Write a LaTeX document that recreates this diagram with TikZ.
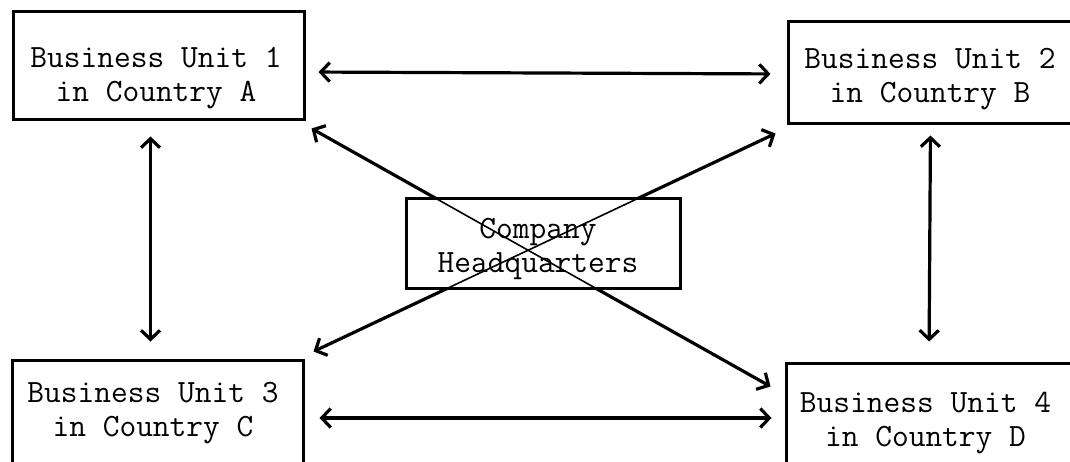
\documentclass[tikz,border=0pt]{standalone}
\usetikzlibrary{arrows.meta}
\begin{document}
\begin{tikzpicture}[x=1pt,y=-1pt,
  box/.style={draw=black,line width=3pt,rectangle,inner sep=0pt},
  txt/.style={align=center,inner sep=0pt,font=\ttfamily\fontsize{32.5}{34}\selectfont},
  conn/.style={line width=3.2pt,{Straight Barb[length=9pt,width=19pt]}-{Straight Barb[length=9pt,width=19pt]}},
  thin/.style={line width=1.6pt}]
\useasboundingbox (0,0) rectangle (1070,462);
\fill[white] (0,0) rectangle (1070,462);
% boxes
\node[box,minimum width=291pt,minimum height=108pt] (b1) at (158.5,66) {};
\node[box,minimum width=285pt,minimum height=102pt] (b2) at (930.5,73) {};
\node[box,minimum width=291pt,minimum height=110pt] (b3) at (157.5,415) {};
\node[box,minimum width=286pt,minimum height=110pt] (b4) at (929,418) {};
% arrow ends of the diagonal connectors
\coordinate (d1) at ([shift={(6pt,-7pt)}]b1.south east);
\coordinate (d4) at ([shift={(-14pt,-25pt)}]b4.north west);
\coordinate (d2) at ([shift={(-11pt,-8pt)}]b2.south west);
\coordinate (d3) at ([shift={(9pt,7pt)}]b3.north east);
\draw[conn] (d1) -- (d4);
\draw[conn] (d2) -- (d3);
% headquarters
\node[box,fill=white,minimum width=274pt,minimum height=89pt] (hq) at (543,243.5) {};
\begin{scope}
\clip (hq.south west) rectangle (hq.north east);
\draw[thin] (d1) -- (d4);
\draw[thin] (d2) -- (d3);
\end{scope}
% texts
\node[txt] (t1) at (156,78) {Business Unit 1\\in Country A};
\node[txt] (t2) at (930,79) {Business Unit 2\\in Country B};
\node[txt] (t3) at (153,413.5) {Business Unit 3\\in Country C};
\node[txt] (t4) at (925.5,423.5) {Business Unit 4\\in Country D};
\node[txt] (th) at (538,248.5) {Company\\Headquarters};
% connectors
\draw[conn,shorten <=13pt,shorten >=16pt] ([yshift=-6pt]b1.east) -- ([yshift=-1pt]b2.west);
\draw[conn,shorten <=15pt,shorten >=13pt] ([yshift=-3pt]b3.east) -- (b4.west);
\draw[conn,shorten <=15pt,shorten >=17pt] ([xshift=-8pt]b1.south) -- ([xshift=-7pt]b3.north);
\draw[conn,shorten <=10pt,shorten >=20pt] (b2.south) -- (b4.north);
\end{tikzpicture}
\end{document}
